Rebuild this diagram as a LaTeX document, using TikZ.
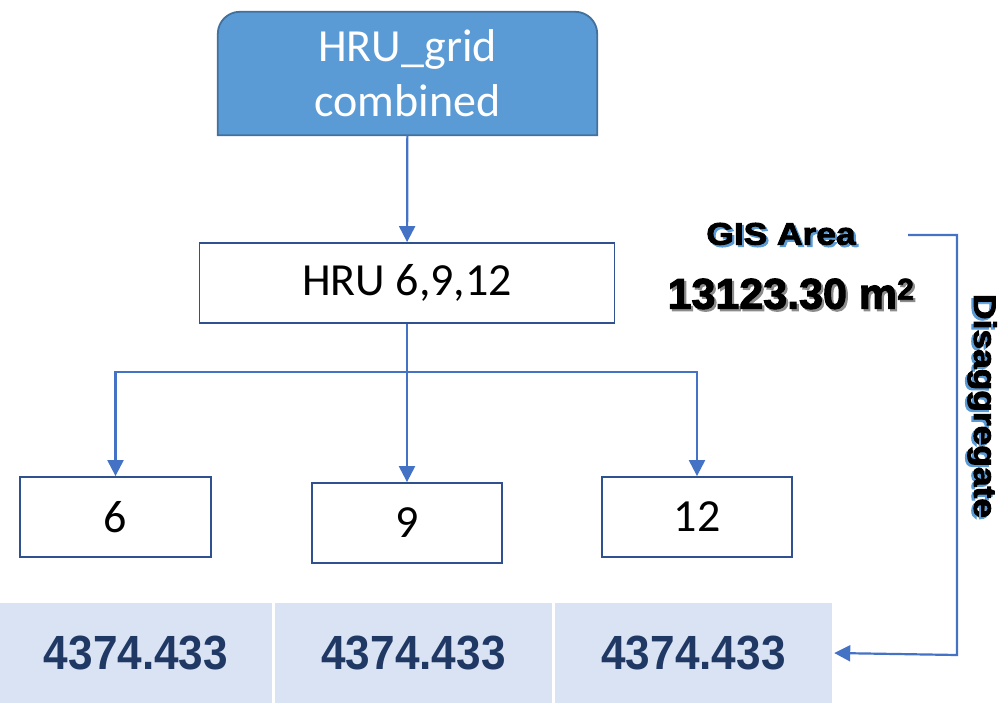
\documentclass[tikz,border=0pt]{standalone}
\usepackage{fontspec}
\usetikzlibrary{arrows.meta, positioning}
\setmainfont{Carlito}
\newfontfamily\heavyfont[FakeBold=3,FakeStretch=1.14]{Liberation Sans Bold}
\newfontfamily\boldfont[FakeBold=2.5]{Liberation Sans Bold}
\newfontfamily\cellfont[FakeStretch=0.92]{Liberation Sans Bold}

\definecolor{linkblue}{HTML}{4472C4}
\definecolor{boxline}{HTML}{2F528F}
\definecolor{topfill}{HTML}{5B9BD5}
\definecolor{topline}{HTML}{41719C}
\definecolor{cellfill}{HTML}{DAE3F3}
\definecolor{cellink}{HTML}{1F3864}
\definecolor{shadeblue}{HTML}{5B9BD5}

% text with a small offset shadow behind it
\newcommand\shadowtext[2]{\makebox[0pt][l]{\kern2.2pt\raisebox{-2.2pt}{\color{#1}#2}}#2}

\tikzset{
  hrubox/.style = {draw=boxline, line width=1.8pt, fill=white, inner sep=0pt,
                   font=\fontsize{46}{55}\selectfont},
  cell/.style   = {fill=cellfill, inner sep=0pt, minimum height=100pt,
                   text=cellink, font=\cellfont\fontsize{48}{50}\selectfont},
  link/.style   = {draw=linkblue, line width=2.2pt,
                   -{Triangle[length=16pt, width=16pt]}},
}

\begin{document}
\begin{tikzpicture}[x=1pt, y=-1pt]
\useasboundingbox (0,0) rectangle (999,703);

% combined grid box, rounded only on top
\node[inner sep=0pt, minimum width=379pt, minimum height=123pt] (grid) at (407.5,73.5) {};
\filldraw[fill=topfill, draw=topline, line width=1.8pt]
  (grid.south west) [rounded corners=22pt] -- (grid.north west) -- (grid.north east)
  [sharp corners] -- (grid.south east) -- cycle;
\node[align=center, text=white, font=\fontsize{46}{55}\selectfont] (gridtext) at (grid) {HRU\_grid\\combined};

% HRU boxes
\node[hrubox, minimum width=415pt, minimum height=80pt] (hru) at (407,283) {HRU 6,9,12};
\node[hrubox, minimum width=191pt, minimum height=80pt] (n6) at (115.5,517) {6};
\node[hrubox, minimum width=190pt, minimum height=80pt] (n9) at (407,523) {9};
\node[hrubox, minimum width=190pt, minimum height=80pt] (n12) at (697,517) {12};

% area per HRU
\node[cell, minimum width=272pt] (c6) at (136,653) {4374.433};
\node[cell, minimum width=277pt] (c9) at (413.5,653) {4374.433};
\node[cell, minimum width=277pt] (c12) at (693.5,653) {4374.433};

% area labels
\node[font=\heavyfont\fontsize{31}{34}\selectfont] (gis) at (781,235)
  {\shadowtext{shadeblue}{GIS Area}};
\node[font=\boldfont\fontsize{43}{46}\selectfont] (area) at (791,295)
  {\shadowtext{black!45}{13123.30 m\textsuperscript{2}}};
\node[rotate=-90, font=\heavyfont\fontsize{31}{34}\selectfont] (disagg) at (981,406)
  {\shadowtext{shadeblue}{Disaggregate}};

% connectors
\coordinate (split) at (407,372);
\coordinate (aggr) at (908,235);
\coordinate (turn) at (957,655);
\draw[link] (grid) -- (hru);
\draw[link, -] (hru) -- (split);
\draw[link] (split) -| (n6);
\draw[link] (split) -- (n9);
\draw[link] (split) -| (n12);
\draw[link] (aggr) -| (turn) -- ([xshift=2pt]c12.east);
\end{tikzpicture}
\end{document}
